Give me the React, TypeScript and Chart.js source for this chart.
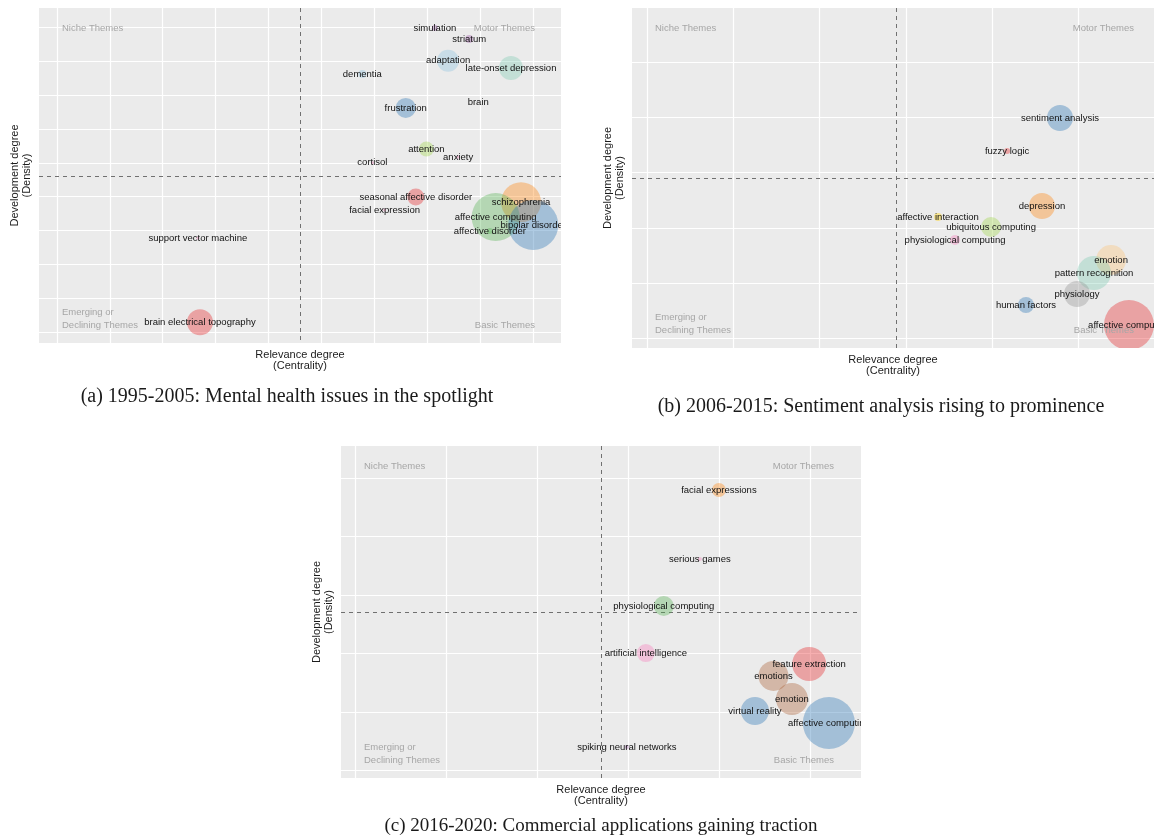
import React, { useEffect, useRef } from "react";
import { Chart, registerables } from "chart.js";

Chart.register(...registerables);

// ---------- colours ----------
const RED = "rgba(228,26,28,0.35)";
const BLUE = "rgba(55,126,184,0.4)";
const GREEN = "rgba(77,175,74,0.35)";
const ORANGE = "rgba(255,127,0,0.35)";
const PURPLE = "rgba(152,78,163,0.35)";
const PINK = "rgba(247,129,191,0.4)";
const BROWN = "rgba(166,86,40,0.35)";
const GRAY = "rgba(153,153,153,0.4)";
const TEAL = "rgba(102,194,165,0.3)";
const LIGHTBLUE = "rgba(166,206,227,0.5)";
const YELLOW = "rgba(255,217,47,0.5)";
const LIME = "rgba(166,216,84,0.4)";
const PEACH = "rgba(253,191,111,0.35)";

// ---------- panel (a) 1995-2005 ----------
const aThemes = [
  "simulation", "striatum", "adaptation", "late-onset depression", "dementia", "brain",
  "frustration", "attention", "anxiety", "cortisol", "seasonal affective disorder",
  "facial expression", "schizophrenia", "affective computing", "bipolar disorder",
  "affective disorder", "support vector machine", "brain electrical topography",
];
const aCentrality = [7.15, 7.8, 7.4, 8.59, 5.78, 7.97, 6.6, 6.99, 7.59, 5.97, 6.79, 6.2, 8.78, 8.3, 9.01, 8.19, 2.67, 2.71];
const aDensity = [8.97, 8.64, 8.0, 7.79, 7.61, 6.78, 6.61, 5.4, 5.16, 4.99, 3.98, 3.6, 3.83, 3.39, 3.16, 2.98, 2.77, 0.29];
const aSize = [3, 4, 11, 12, 4, 1, 10, 7.5, 1.5, 1.5, 8.5, 1.5, 20, 24, 25, 3, 1.5, 13];
const aColors = [PURPLE, PURPLE, LIGHTBLUE, TEAL, LIGHTBLUE, GRAY, BLUE, LIME, PINK, PINK, RED, PINK, ORANGE, GREEN, BLUE, GREEN, PINK, RED];
const aGridX = [0, 1, 2, 3, 4, 5, 6, 7, 8, 9];
const aGridY = [0, 1, 2, 3, 4, 5, 6, 7, 8, 9];

// ---------- panel (b) 2006-2015 ----------
const bThemes = [
  "sentiment analysis", "fuzzy logic", "depression", "affective interaction",
  "ubiquitous computing", "physiological computing", "emotion", "pattern recognition",
  "physiology", "human factors", "affective computing",
];
const bCentrality = [4.794, 4.18, 4.585, 3.377, 3.993, 3.575, 5.387, 5.189, 4.992, 4.399, 5.595];
const bDensity = [3.986, 3.388, 2.391, 2.192, 2.011, 1.775, 1.413, 1.178, 0.797, 0.598, 0.236];
const bSize = [13, 3, 13, 4, 10, 5, 15, 17, 13, 8, 25];
const bColors = [BLUE, RED, ORANGE, YELLOW, LIME, PINK, PEACH, TEAL, GRAY, BLUE, RED];
const bGridX = [0, 1, 2, 3, 4, 5];
const bGridY = [0, 1, 2, 3, 4, 5];

// ---------- panel (c) 2016-2020 ----------
const cThemes = [
  "facial expressions", "serious games", "physiological computing", "artificial intelligence",
  "feature extraction", "emotions", "emotion", "virtual reality", "affective computing",
  "spiking neural networks",
];
const cCentrality = [3.997, 3.788, 3.391, 3.194, 4.989, 4.597, 4.8, 4.393, 5.206, 2.985];
const cDensity = [4.795, 3.613, 2.808, 2.003, 1.815, 1.61, 1.216, 1.01, 0.805, 0.394];
const cSize = [7, 2, 10, 9, 17, 15, 16, 14, 26, 2];
const cColors = [ORANGE, PINK, GREEN, PINK, RED, BROWN, BROWN, BLUE, BLUE, PURPLE];
const cGridX = [0, 1, 2, 3, 4, 5];
const cGridY = [0, 1, 2, 3, 4, 5];

const captions = [
  "(a) 1995-2005: Mental health issues in the spotlight",
  "(b) 2006-2015: Sentiment analysis rising to prominence",
  "(c) 2016-2020: Commercial applications gaining traction",
];

const SANS = '"Liberation Sans", Arial, sans-serif';

type PanelCfg = {
  themes: string[];
  cx: number[];
  cy: number[];
  size: number[];
  colors: string[];
  gridX: number[];
  gridY: number[];
  xRange: [number, number];
  yRange: [number, number];
  thrX: number;
  thrY: number;
  pad: { left: number; right: number; top: number; bottom: number };
  rightQuadOffset: number;
  width: number;
  height: number;
};

const panels: PanelCfg[] = [
  {
    themes: aThemes, cx: aCentrality, cy: aDensity, size: aSize, colors: aColors,
    gridX: aGridX, gridY: aGridY, xRange: [-0.333, 9.535], yRange: [-0.324, 9.558],
    thrX: 4.595, thrY: 4.6, pad: { left: 39, right: 19, top: 8, bottom: 37 },
    rightQuadOffset: 26, width: 580, height: 380,
  },
  {
    themes: bThemes, cx: bCentrality, cy: bDensity, size: bSize, colors: bColors,
    gridX: bGridX, gridY: bGridY, xRange: [-0.177, 5.886], yRange: [-0.181, 5.978],
    thrX: 2.89, thrY: 2.899, pad: { left: 42, right: 4, top: 8, bottom: 42 },
    rightQuadOffset: 20, width: 568, height: 390,
  },
  {
    themes: cThemes, cx: cCentrality, cy: cDensity, size: cSize, colors: cColors,
    gridX: cGridX, gridY: cGridY, xRange: [-0.157, 5.559], yRange: [-0.137, 5.548],
    thrX: 2.699, thrY: 2.705, pad: { left: 41, right: 19, top: 6, bottom: 37 },
    rightQuadOffset: 27, width: 580, height: 375,
  },
];

function makePlugin(cfg: PanelCfg) {
  return {
    id: "thematicMap",
    beforeDatasetsDraw(chart: any) {
      const { ctx, chartArea: ca, scales } = chart;
      const x = scales.x;
      const y = scales.y;
      ctx.save();
      ctx.fillStyle = "#EBEBEB";
      ctx.fillRect(ca.left, ca.top, ca.right - ca.left, ca.bottom - ca.top);
      ctx.strokeStyle = "#FFFFFF";
      ctx.lineWidth = 1.2;
      for (const v of cfg.gridX) {
        const px = Math.round(x.getPixelForValue(v)) + 0.5;
        ctx.beginPath();
        ctx.moveTo(px, ca.top);
        ctx.lineTo(px, ca.bottom);
        ctx.stroke();
      }
      for (const v of cfg.gridY) {
        const py = Math.round(y.getPixelForValue(v)) + 0.5;
        ctx.beginPath();
        ctx.moveTo(ca.left, py);
        ctx.lineTo(ca.right, py);
        ctx.stroke();
      }
      ctx.strokeStyle = "#707070";
      ctx.lineWidth = 1;
      ctx.setLineDash([4, 4]);
      const tx = Math.round(x.getPixelForValue(cfg.thrX)) + 0.5;
      ctx.beginPath();
      ctx.moveTo(tx, ca.top);
      ctx.lineTo(tx, ca.bottom);
      ctx.stroke();
      const ty = Math.round(y.getPixelForValue(cfg.thrY)) + 0.5;
      ctx.beginPath();
      ctx.moveTo(ca.left, ty);
      ctx.lineTo(ca.right, ty);
      ctx.stroke();
      ctx.restore();
    },
    afterDatasetsDraw(chart: any) {
      const { ctx, chartArea: ca, scales } = chart;
      const x = scales.x;
      const y = scales.y;
      ctx.save();
      ctx.beginPath();
      ctx.rect(ca.left, ca.top, ca.right - ca.left, ca.bottom - ca.top);
      ctx.clip();
      // quadrant names
      ctx.font = `9.5px ${SANS}`;
      ctx.fillStyle = "#A6A6A6";
      ctx.textBaseline = "middle";
      ctx.textAlign = "left";
      ctx.fillText("Niche Themes", ca.left + 23, ca.top + 20);
      ctx.fillText("Emerging or", ca.left + 23, ca.bottom - 31);
      ctx.fillText("Declining Themes", ca.left + 23, ca.bottom - 18);
      ctx.textAlign = "right";
      ctx.fillText("Motor Themes", ca.right - cfg.rightQuadOffset, ca.top + 20);
      ctx.fillText("Basic Themes", ca.right - cfg.rightQuadOffset, ca.bottom - 18);
      // theme labels
      ctx.fillStyle = "#111111";
      ctx.textAlign = "center";
      cfg.themes.forEach((t, i) => {
        ctx.fillText(t, x.getPixelForValue(cfg.cx[i]), y.getPixelForValue(cfg.cy[i]));
      });
      ctx.restore();

      // axis titles
      ctx.save();
      ctx.fillStyle = "#1c1c1c";
      ctx.font = `11px ${SANS}`;
      ctx.textAlign = "center";
      ctx.textBaseline = "middle";
      const midX = (ca.left + ca.right) / 2;
      ctx.fillText("Relevance degree", midX, ca.bottom + 11.5);
      ctx.fillText("(Centrality)", midX, ca.bottom + 23);
      const midY = (ca.top + ca.bottom) / 2;
      ctx.translate(ca.left - 24, midY);
      ctx.rotate(-Math.PI / 2);
      ctx.fillText("Development degree", 0, 0);
      ctx.fillText("(Density)", 0, 11.5);
      ctx.restore();
    },
  };
}

function Panel({ cfg, left, top }: { cfg: PanelCfg; left: number; top: number }) {
  const ref = useRef<HTMLCanvasElement | null>(null);
  useEffect(() => {
    if (!ref.current) return;
    const data = cfg.themes.map((_, i) => ({ x: cfg.cx[i], y: cfg.cy[i], r: cfg.size[i] }));
    const chart = new Chart(ref.current, {
      type: "bubble",
      data: {
        datasets: [
          {
            data,
            backgroundColor: cfg.colors,
            borderWidth: 0,
            hoverBorderWidth: 0,
            clip: 0,
          } as any,
        ],
      },
      options: {
        responsive: false,
        animation: false,
        events: [],
        layout: { padding: cfg.pad, autoPadding: false },
        plugins: {
          legend: { display: false },
          tooltip: { enabled: false },
          title: { display: false },
        },
        scales: {
          x: { type: "linear", display: false, min: cfg.xRange[0], max: cfg.xRange[1] },
          y: { type: "linear", display: false, min: cfg.yRange[0], max: cfg.yRange[1] },
        },
      } as any,
      plugins: [makePlugin(cfg)],
    });
    return () => chart.destroy();
  }, [cfg]);
  return (
    <canvas
      ref={ref}
      width={cfg.width}
      height={cfg.height}
      style={{ position: "absolute", left, top, width: cfg.width, height: cfg.height }}
    />
  );
}

function Caption({ text, cx, cy, size }: { text: string; cx: number; cy: number; size: number }) {
  return (
    <div
      style={{
        position: "absolute",
        left: cx - 320,
        width: 640,
        top: cy - 12,
        height: 24,
        lineHeight: "24px",
        textAlign: "center",
        fontFamily: '"Liberation Serif", "Times New Roman", serif',
        fontSize: size,
        color: "#1a1a1a",
        whiteSpace: "nowrap",
      }}
    >
      {text}
    </div>
  );
}

export default function App() {
  return (
    <div
      style={{
        position: "fixed",
        left: 0,
        top: 0,
        width: 1158,
        height: 839,
        background: "#FFFFFF",
        overflow: "hidden",
      }}
    >
      <Panel cfg={panels[0]} left={0} top={0} />
      <Panel cfg={panels[1]} left={590} top={0} />
      <Panel cfg={panels[2]} left={300} top={440} />
      <Caption text={captions[0]} cx={287} cy={395} size={20} />
      <Caption text={captions[1]} cx={881} cy={405} size={20} />
      <Caption text={captions[2]} cx={601} cy={825} size={19} />
    </div>
  );
}
